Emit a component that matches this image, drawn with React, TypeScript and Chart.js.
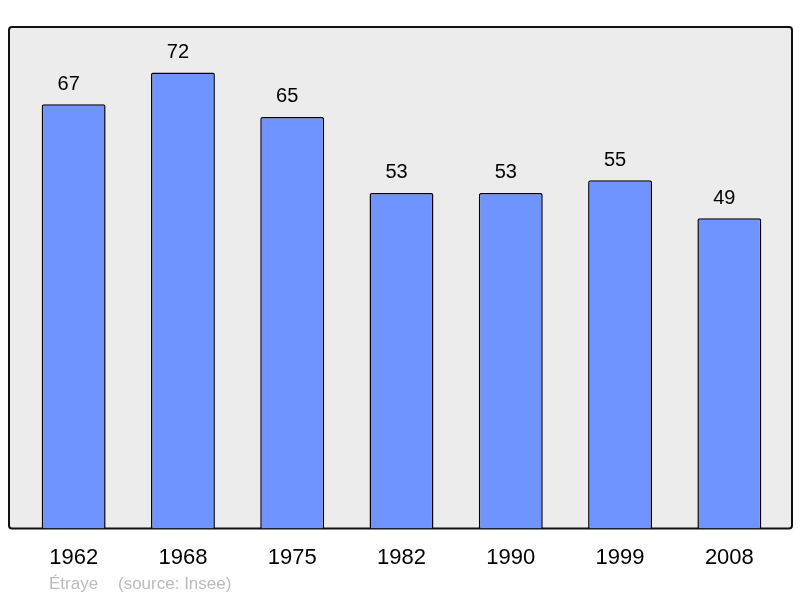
import React, { useEffect, useRef } from "react";
import { Chart, registerables } from "chart.js";

Chart.register(...registerables);

const years: string[] = ["1962", "1968", "1975", "1982", "1990", "1999", "2008"];
const population: number[] = [67, 72, 65, 53, 53, 55, 49];
const commune = "Étraye";
const source = "(source: Insee)";

const FONT = "'Liberation Sans', Arial, sans-serif";

const framePlugin = {
  id: "frame",
  beforeDraw(chart: any) {
    const ctx = chart.ctx;
    const ca = chart.chartArea;
    const x0 = ca.left - 10, x1 = ca.right + 8;
    const y0 = ca.top, y1 = ca.bottom;
    ctx.save();
    ctx.beginPath();
    const r = 3;
    ctx.moveTo(x0 + r, y0);
    ctx.lineTo(x1 - r, y0);
    ctx.quadraticCurveTo(x1, y0, x1, y0 + r);
    ctx.lineTo(x1, y1 - r);
    ctx.quadraticCurveTo(x1, y1, x1 - r, y1);
    ctx.lineTo(x0 + r, y1);
    ctx.quadraticCurveTo(x0, y1, x0, y1 - r);
    ctx.lineTo(x0, y0 + r);
    ctx.quadraticCurveTo(x0, y0, x0 + r, y0);
    ctx.closePath();
    ctx.fillStyle = "#ececec";
    ctx.fill();
    ctx.lineWidth = 2;
    ctx.strokeStyle = "#111";
    ctx.stroke();
    ctx.restore();
  },
  afterDatasetsDraw(chart: any) {
    const ctx = chart.ctx;
    const meta = chart.getDatasetMeta(0);
    const data = chart.data.datasets[0].data;
    ctx.save();
    ctx.font = `20px ${FONT}`;
    ctx.fillStyle = "#000";
    ctx.textAlign = "center";
    ctx.textBaseline = "middle";
    meta.data.forEach((bar: any, i: number) => {
      ctx.fillText(String(data[i]), bar.x - 5, bar.y - 20);
    });
    ctx.font = `17px ${FONT}`;
    ctx.fillStyle = "#bbbbbb";
    ctx.textAlign = "left";
    ctx.fillText(commune, 49, 584);
    ctx.fillText(source, 118, 584);
    ctx.restore();
  },
};

export default function App() {
  const ref = useRef<HTMLCanvasElement | null>(null);
  useEffect(() => {
    if (!ref.current) return;
    const chart = new Chart(ref.current, {
      type: "bar",
      data: {
        labels: years,
        datasets: [
          {
            data: population,
            backgroundColor: "#7094ff",
            borderColor: "#000",
            borderWidth: 1.5,
            borderRadius: 2,
            borderSkipped: "bottom",
            barPercentage: 0.585,
            categoryPercentage: 1,
          },
        ],
      },
      options: {
        responsive: false,
        animation: false,
        layout: { padding: { left: 19, right: 16, top: 27, bottom: 11 } },
        plugins: { legend: { display: false }, tooltip: { enabled: false } },
        scales: {
          y: { display: false, min: 0, max: 79.2 },
          x: {
            grid: { display: false, drawTicks: false },
            border: { display: false },
            ticks: { color: "#000", font: { size: 22, family: FONT }, padding: 16 },
          },
        },
      },
      plugins: [framePlugin],
    });
    return () => chart.destroy();
  }, []);
  return (
    <div style={{ position: "absolute", left: 0, top: 0, width: 800, height: 598, background: "#fff" }}>
      <canvas ref={ref} width={800} height={598} style={{ display: "block" }} />
    </div>
  );
}
